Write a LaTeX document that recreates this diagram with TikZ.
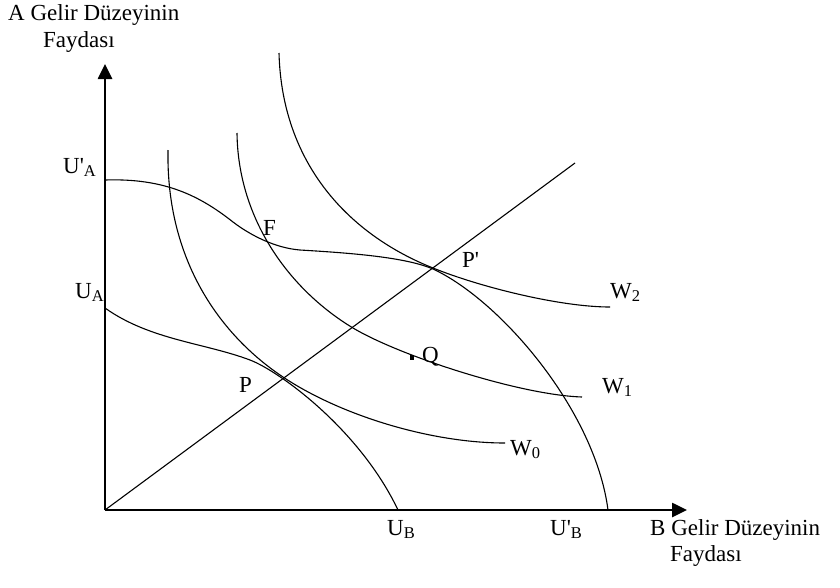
\documentclass[tikz,border=0pt]{standalone}
\usepackage{fontspec}
\setmainfont{Liberation Serif}
\usetikzlibrary{arrows.meta}
\newcommand{\sbx}[1]{\raisebox{-0.3ex}{\fontsize{16.5}{17}\selectfont #1}}
\newcommand{\prm}{\textquotesingle}
\begin{document}
\begin{tikzpicture}[x=1pt,y=-1pt,
  lbl/.style={anchor=base west,inner sep=0pt,font=\fontsize{23}{26}\selectfont},
  crv/.style={line width=1.1pt},
  axis/.style={line width=2.6pt,-{Triangle[length=15pt,width=14pt]}}]
\useasboundingbox (0,0) rectangle (840,587);
\coordinate (O) at (105,510);
\coordinate (Ytip) at (105,64);
\coordinate (Xtip) at (687,510);
\coordinate (R) at (575,163);
\draw[axis] (O) -- (Ytip);
\draw[axis] (O) -- (Xtip);
\draw[crv] (O) -- (R);
% inner frontier
\draw[crv] (105,308) .. controls (150,340) and (205,343) .. (250,360)
                     .. controls (280,371.5) and (360,430) .. (398,510);
% outer frontier
\draw[crv] (105,180) .. controls (165,178) and (200,196) .. (233,222)
                     .. controls (250,235) and (275,248) .. (300,250)
                     .. controls (350,253) and (405,257) .. (433,269)
                     .. controls (500,300) and (595,410) .. (608,510);
% W0
\draw[crv] (168,150) .. controls (166,260) and (220,335) .. (283,377)
                     .. controls (340,415) and (430,443) .. (505,443);
% W1
\draw[crv] (237,133) .. controls (238,220) and (290,290) .. (353,328)
                     .. controls (400,356) and (520,395) .. (582,397);
% W2
\draw[crv] (279,53) .. controls (282,165) and (350,235) .. (433,268)
                    .. controls (480,287) and (560,307) .. (610,307);
% Q dot
\fill (410,355) rectangle (414,360);
% labels
\node[lbl] (ya1) at (8,20) {A Gelir Düzeyinin};
\node[lbl] (ya2) at (43,47) {Faydası};
\node[lbl] (xa1) at (650,535) {B Gelir Düzeyinin};
\node[lbl] (xa2) at (670,561) {Faydası};
\node[lbl] (upa) at (63,173) {U\prm\sbx{A}};
\node[lbl] (ua) at (75,298) {U\sbx{A}};
\node[lbl] (ub) at (387,535) {U\sbx{B}};
\node[lbl] (upb) at (550,535) {U\prm\sbx{B}};
\node[lbl] (F) at (263,235) {F};
\node[lbl] (Pp) at (462,267) {P\prm};
\node[lbl] (P) at (239,392) {P};
\node[lbl] (Q) at (422,362) {Q};
\node[lbl] (W2) at (610,298) {W\sbx{2}};
\node[lbl] (W1) at (602,393) {W\sbx{1}};
\node[lbl] (W0) at (510,455) {W\sbx{0}};
\end{tikzpicture}
\end{document}
